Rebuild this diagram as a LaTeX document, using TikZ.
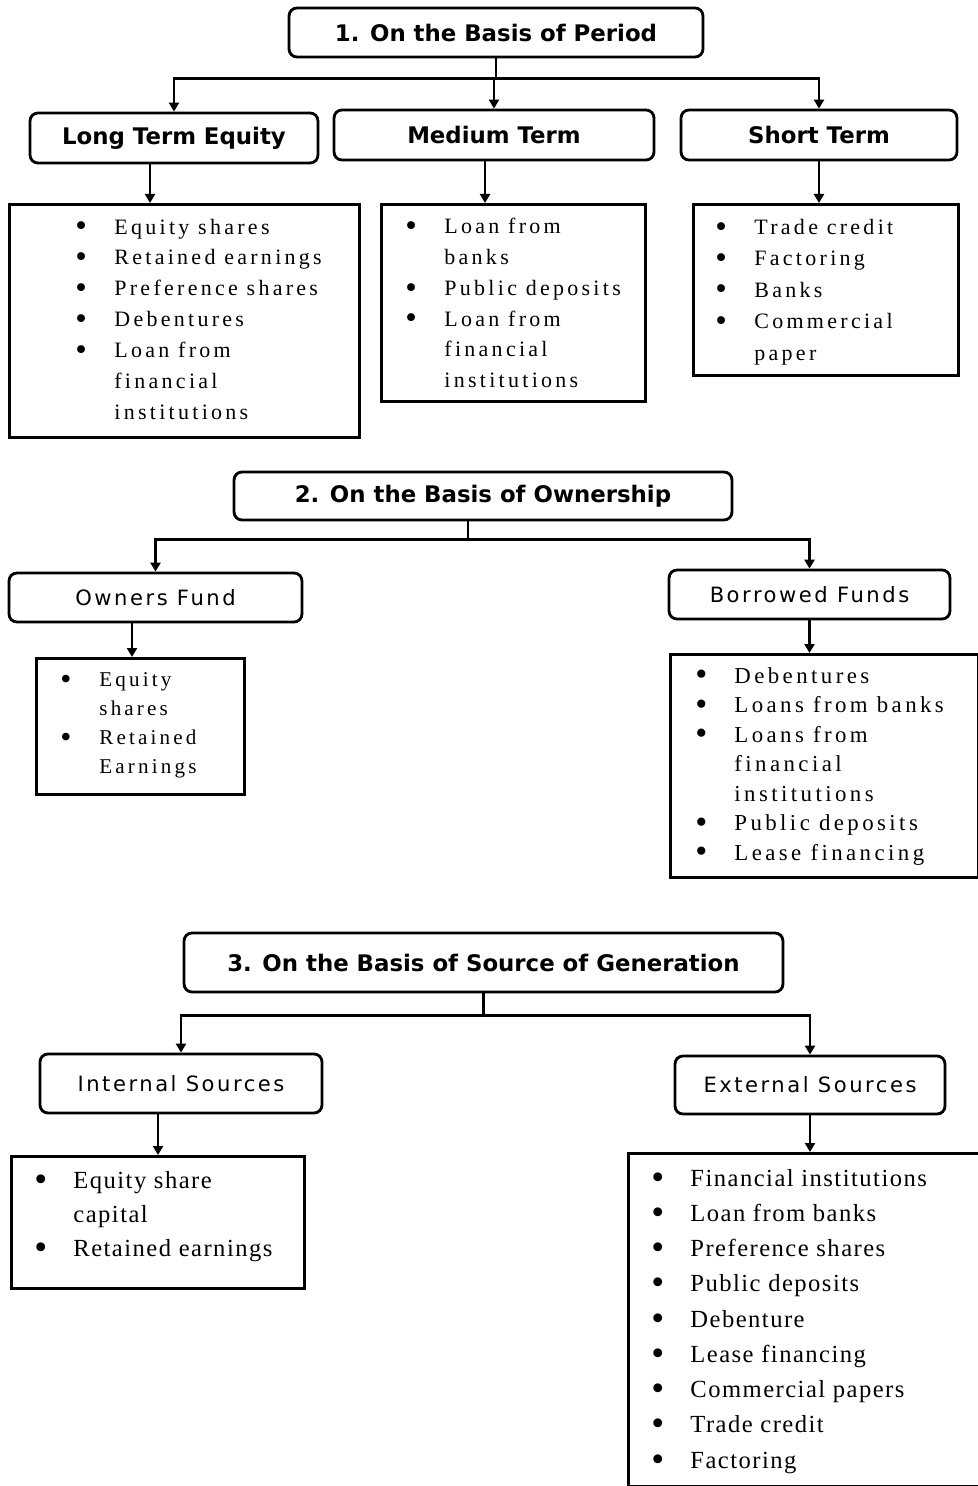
\documentclass[tikz,border=0pt]{standalone}
\usepackage{fontspec}
\usepackage{tikz}
\usetikzlibrary{arrows.meta}

\newfontfamily\headfont{DejaVu Sans}
\newfontfamily\subfont[LetterSpace=12]{DejaVu Sans}
\newfontfamily\lsa[LetterSpace=15]{Liberation Serif}
\newfontfamily\lsb[LetterSpace=6]{Liberation Serif}

\newlength\lstoff
\newlength\bulw
\setlength\bulw{0.78cm}
\newcommand\bulletmark{\raisebox{-0.12em}[0pt][0pt]{\scalebox{1.5}{\textbullet}}}
\newcommand\li[1]{\par\noindent\hangindent=\dimexpr\lstoff+\bulw\relax\hangafter=1
  \hspace*{\lstoff}\makebox[\bulw][l]{\bulletmark}\strut#1}
% list box: width, height, bullet offset, items
\newcommand\lstbox[4]{\parbox[c][#2][t]{#1}{\setlength\lstoff{#3}\raggedright\vspace*{0.16cm}#4}}

\tikzset{
  box/.style={draw, line width=1.6pt, rounded corners=4.5pt, inner sep=0pt, align=center},
  headbox/.style={box, font=\headfont\bfseries\fontsize{13}{15}\selectfont},
  subbox/.style={box, font=\subfont\fontsize{12}{14}\selectfont},
  lst/.style={draw, line width=1.6pt, anchor=north west, inner sep=0pt},
  conn/.style={line width=1.4pt},
  arr/.style={conn, -{Triangle[length=1.8mm,width=2mm]}},
}

\begin{document}
\begin{tikzpicture}[x=0.02cm,y=-0.02cm]
\useasboundingbox (0,0) rectangle (977,1486);

% 1. On the basis of period
\node[headbox, minimum width=8.28cm, minimum height=0.98cm] (per) at (496,32.5) {1. On the Basis of Period};
\node[headbox, minimum width=5.76cm, minimum height=1cm] (lte) at (174,138) {Long Term Equity};
\node[headbox, minimum width=6.4cm, minimum height=1cm] (mte) at (494,135) {Medium Term};
\node[headbox, minimum width=5.52cm, minimum height=1cm] (ste) at (819,135) {Short Term};

\node[lst, font=\lsa\fontsize{12.5}{17.6}\selectfont] (ltel) at (8,203)
  {\lstbox{7cm}{4.66cm}{1.32cm}{\li{Equity shares}\li{Retained earnings}\li{Preference shares}
   \li{Debentures}\li{Loan from\newline financial\newline institutions}}};
\node[lst, font=\lsa\fontsize{12.5}{17.5}\selectfont] (mtel) at (380,203)
  {\lstbox{5.28cm}{3.94cm}{0.48cm}{\li{Loan from\newline banks}\li{Public deposits}
   \li{Loan from\newline financial\newline institutions}}};
\node[lst, font=\lsa\fontsize{12.5}{17.9}\selectfont] (stel) at (692,203)
  {\lstbox{5.3cm}{3.42cm}{0.44cm}{\li{Trade credit}\li{Factoring}\li{Banks}\li{Commercial\newline paper}}};

\draw[conn] (per.south) -- ++(0,20) coordinate (pj);
\draw[arr] (pj) -| (lte);
\draw[arr] (pj) -| (mte);
\draw[arr] (pj) -| (ste);
\draw[arr] ([xshift=-0.48cm]lte.south) -- ([xshift=-0.48cm]lte.south |- ltel.north);
\draw[arr] ([xshift=-0.18cm]mte.south) -- ([xshift=-0.18cm]mte.south |- mtel.north);
\draw[arr] (ste.south) -- (ste.south |- stel.north);

% 2. On the basis of ownership
\node[headbox, minimum width=9.96cm, minimum height=0.96cm] (own) at (483,496) {2. On the Basis of Ownership};
\node[subbox, minimum width=5.86cm, minimum height=0.98cm] (ofd) at (155.5,597.5) {Owners Fund};
\node[subbox, minimum width=5.62cm, minimum height=0.98cm] (bfd) at (809.5,594.5) {Borrowed Funds};

\node[lst, font=\lsa\fontsize{12}{16.5}\selectfont] (ofdl) at (35,657)
  {\lstbox{4.16cm}{2.72cm}{0.48cm}{\li{Equity\newline shares}\li{Retained\newline Earnings}}};
\node[lst, font=\lsa\fontsize{13}{16.8}\selectfont] (bfdl) at (669,653)
  {\lstbox{6.16cm}{4.46cm}{0.5cm}{\li{Debentures}\li{Loans from banks}
   \li{Loans from\newline financial\newline institutions}\li{Public deposits}\li{Lease financing}}};

\draw[conn] ([xshift=-0.3cm]own.south) -- ++(0,18) coordinate (oj);
\draw[arr] (oj) -| (ofd);
\draw[arr] (oj) -| (bfd);
\draw[arr] ([xshift=-0.47cm]ofd.south) -- ([xshift=-0.47cm]ofd.south |- ofdl.north);
\draw[arr] (bfd.south) -- (bfd.south |- bfdl.north);

% 3. On the basis of source of generation
\node[headbox, minimum width=11.98cm, minimum height=1.18cm] (gen) at (483.5,962.5) {3. On the Basis of Source of Generation};
\node[subbox, minimum width=5.64cm, minimum height=1.18cm] (ins) at (181,1083.5) {Internal Sources};
\node[subbox, minimum width=5.4cm, minimum height=1.16cm] (exs) at (810,1085) {External Sources};

\node[lst, font=\lsb\fontsize{14}{19.35}\selectfont] (insl) at (10,1155)
  {\lstbox{5.86cm}{2.64cm}{0.46cm}{\li{Equity share\newline capital}\li{Retained earnings}}};
\node[lst, font=\lsb\fontsize{14}{20.06}\selectfont] (exsl) at (627,1152)
  {\lstbox{7.2cm}{6.66cm}{0.46cm}{\li{Financial institutions}\li{Loan from banks}
   \li{Preference shares}\li{Public deposits}\li{Debenture}\li{Lease financing}
   \li{Commercial papers}\li{Trade credit}\li{Factoring}}};

\draw[conn] (gen.south) -- ++(0,22) coordinate (gj);
\draw[arr] (gj) -| (ins);
\draw[arr] (gj) -| (exs);
\draw[arr] ([xshift=-0.46cm]ins.south) -- ([xshift=-0.46cm]ins.south |- insl.north);
\draw[arr] (exs.south) -- (exs.south |- exsl.north);
\end{tikzpicture}
\end{document}
